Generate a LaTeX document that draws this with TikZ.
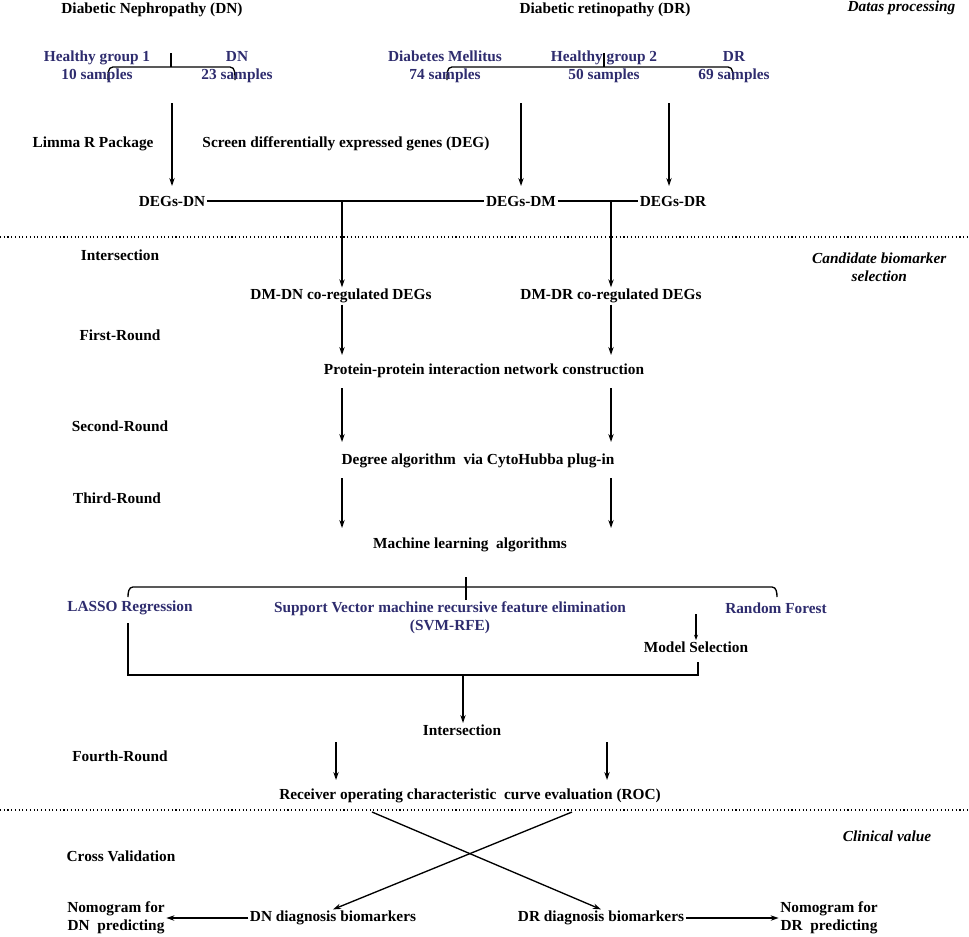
\documentclass[tikz,border=0pt]{standalone}
\usepackage{fontspec}
\setmainfont{Liberation Serif}
\usetikzlibrary{arrows.meta}
\definecolor{nav}{HTML}{2E2C6E}
\begin{document}
\begin{tikzpicture}[x=0.75pt,y=-0.75pt,
 t/.style={font=\fontsize{11.5}{13.5}\selectfont\bfseries,inner sep=1pt,align=center},
 b/.style={t,text=nav},
 it/.style={font=\fontsize{11.5}{13.5}\selectfont\bfseries\itshape,inner sep=1pt,align=center},
 ar/.style={line width=1pt,-{Stealth[length=6pt,width=4pt]}},
 ln/.style={line width=1pt},
 dt/.style={line width=0.8pt,dotted}]
\useasboundingbox (0,0) rectangle (969,936);
\node[t] (dn) at (152,10) {Diabetic Nephropathy (DN)};
\node[t] (dr) at (605,10) {Diabetic retinopathy (DR)};
\node[it,anchor=east] (dp) at (957,8) {Datas processing};
% braces
\draw[ln] (108,80) to[out=90,in=180] (113,67) -- (230,67) to[out=0,in=90] (235,80);
\draw[ln] (171,53) -- (171,67);
\draw[ln] (447,80) to[out=90,in=180] (452,67) -- (728,67) to[out=0,in=90] (733,80);
\draw[ln] (604,53) -- (604,67);
\node[b] (h1) at (97,67) {Healthy group 1\\10 samples};
\node[b] (g1) at (237,67) {DN\\23 samples};
\node[b] (dm) at (445,67) {Diabetes Mellitus\\74 samples};
\node[b] (h2) at (604,67) {Healthy group 2\\50 samples};
\node[b] (g2) at (734,67) {DR\\69 samples};
\coordinate (a1) at (172,103); \coordinate (a2) at (521,103); \coordinate (a3) at (669,103);
\node[t] (lim) at (93,144) {Limma R Package};
\node[t] (scr) at (346,144) {Screen differentially expressed genes (DEG)};
\node[t] (ddn) at (172,201) {DEGs-DN};
\node[t] (ddm) at (521,201) {DEGs-DM};
\node[t] (ddr) at (673,201) {DEGs-DR};
\draw[ar] (a1) -- (172,186);
\draw[ar] (a2) -- (521,186);
\draw[ar] (a3) -- (669,186);
\draw[ln] (ddn.east) -- (ddm.west);
\draw[ln] (ddm.east) -- (ddr.west);
\draw[dt] (0,237) -- (969,237);
\node[t] (ins1) at (120,255) {Intersection};
\node[it,anchor=east] (cbs) at (948,267) {Candidate biomarker\\selection};
\node[t] (cdn) at (341,296) {DM-DN co-regulated DEGs};
\node[t] (cdr) at (611,296) {DM-DR co-regulated DEGs};
\draw[ar] (342,201) -- (cdn.north -| 342,0);
\draw[ar] (611,201) -- (cdr.north -| 611,0);
\node[t] (r1) at (120,335) {First-Round};
\node[t] (ppi) at (484,371) {Protein-protein interaction network construction};
\draw[ar] (cdn.south -| 342,0) -- (342,355);
\draw[ar] (cdr.south -| 611,0) -- (611,355);
\node[t] (r2) at (120,426) {Second-Round};
\node[t] (deg) at (478,461) {Degree algorithm\ \ via CytoHubba plug-in};
\draw[ar] (342,388) -- (342,442);
\draw[ar] (611,388) -- (611,442);
\node[t] (r3) at (117,498) {Third-Round};
\node[t] (ml) at (470,545) {Machine learning\ \ algorithms};
\draw[ar] (342,478) -- (342,528);
\draw[ar] (611,478) -- (611,528);
\draw[ln] (128,597) to[out=90,in=180] (133,587) -- (772,587) to[out=0,in=90] (777,597);
\draw[ln] (466,577) -- (466,600);
\node[b] (las) at (130,608) {LASSO Regression};
\node[b] (svm) at (450,618) {Support Vector machine recursive feature elimination\\(SVM-RFE)};
\node[b] (rf) at (776,608) {Random Forest};
\node[t] (ms) at (696,647) {Model Selection};
\draw[line width=0.8pt,-{Stealth[length=4pt,width=3pt]}] (696,614) -- (ms.north);
\draw[ln] (128,623) -- (128,675) -- (698,675) -- (698,662);
\node[t] (ins2) at (462,730) {Intersection};
\draw[ar] (463,675) -- (ins2.north -| 463,0);
\node[t] (r4) at (120,756) {Fourth-Round};
\node[t] (roc) at (470,796) {Receiver operating characteristic\ \ curve evaluation (ROC)};
\draw[ar] (336,742) -- (336,780);
\draw[ar] (607,742) -- (607,780);
\draw[dt] (0,810) -- (969,810);
\node[it] (cv) at (887,836) {Clinical value};
\node[t] (cr) at (121,856) {Cross Validation};
\node[t] (bdn) at (333,918) {DN diagnosis biomarkers};
\node[t] (bdr) at (601,918) {DR diagnosis biomarkers};
\draw[ar] (372,812) -- (bdr.north);
\draw[ar] (572,812) -- (bdn.north);
\node[t] (ndn) at (116,918) {Nomogram for\\DN\ \ predicting};
\node[t] (ndr) at (829,918) {Nomogram for\\DR\ \ predicting};
\draw[ar] (bdn.west) -- (ndn.east);
\draw[ar] (bdr.east) -- (ndr.west);
\end{tikzpicture}
\end{document}
